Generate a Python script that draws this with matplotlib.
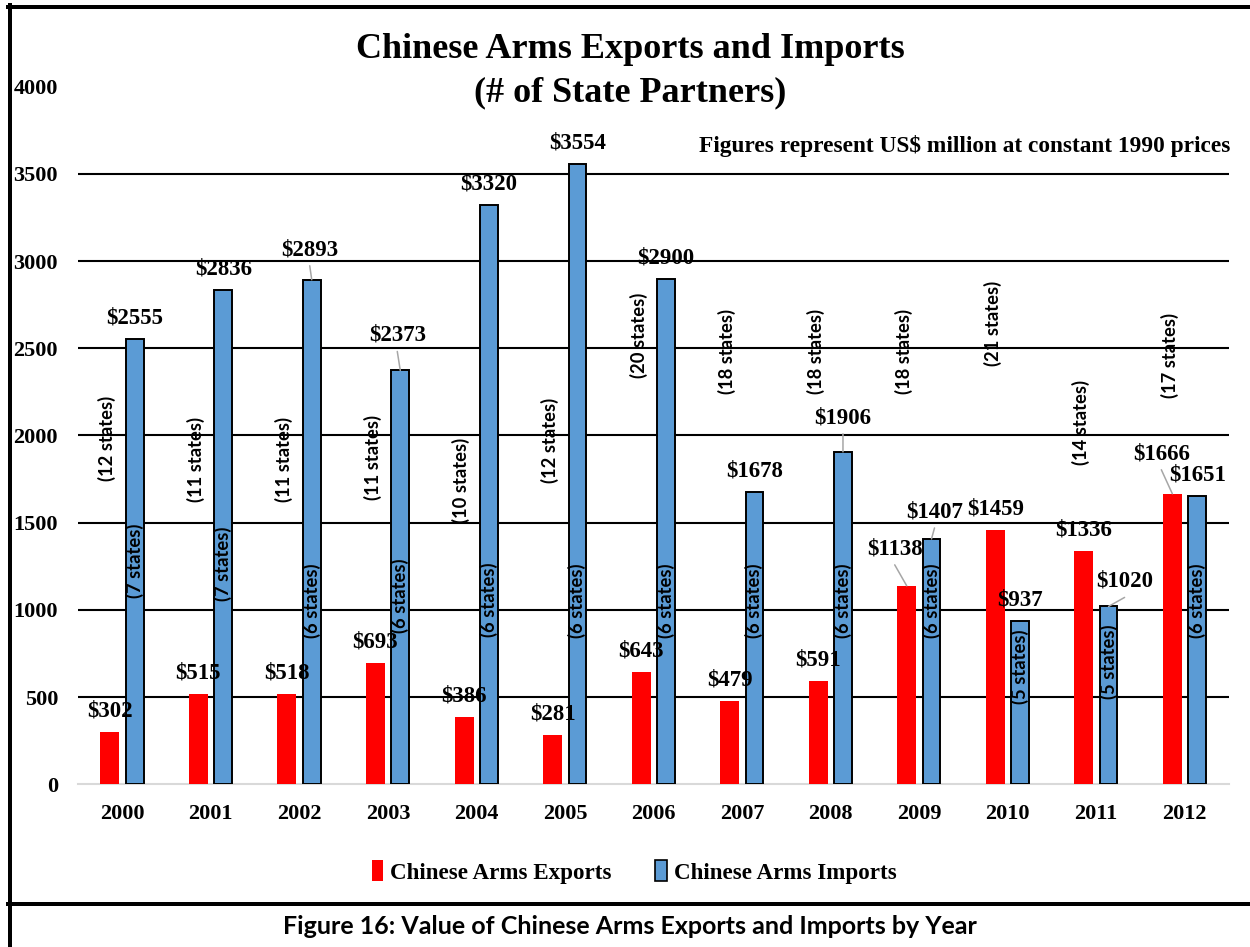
import matplotlib
matplotlib.use("Agg")
import matplotlib.pyplot as plt
from matplotlib.lines import Line2D
from matplotlib.patches import Patch
import numpy as np

# ---- data (US$ million, constant 1990 prices) ----
years = ["2000", "2001", "2002", "2003", "2004", "2005", "2006",
         "2007", "2008", "2009", "2010", "2011", "2012"]
exports = [302, 515, 518, 693, 386, 281, 643, 479, 591, 1138, 1459, 1336, 1666]
imports = [2555, 2836, 2893, 2373, 3320, 3554, 2900, 1678, 1906, 1407, 937, 1020, 1651]
export_partners = [12, 11, 11, 11, 10, 12, 20, 18, 18, 18, 21, 14, 17]
import_partners = [7, 7, 6, 6, 6, 6, 6, 6, 6, 6, 5, 5, 6]

# ---- layout: heights (data units) where the partner-count notes sit ----
export_note_y = [1986, 1860, 1860, 1871, 1745, 1974, 2576, 2479, 2479, 2479, 2645, 2072, 2459]
import_note_y = [1281, 1264, 1052, 1081, 1058, 1052, 1052, 1052, 1052, 1052, 674, 702, 1052]

# nudges (dx, extra rise) in pixels for value labels moved off their bars
export_label_shift = {9: (-12, 16), 12: (-11, 19)}
import_label_shift = {2: (-2, 9), 3: (-3, 14), 8: (0, 13), 9: (3, 6), 11: (16, 4)}

RED = "#ff0000"
BLUE = "#5b9bd5"
LEADER = "#a6a6a6"
SERIF = "Liberation Serif"
SANS = "Lato"

W, H, DPI = 1250, 947, 100


def px(v):
    """pixels -> points"""
    return v * 72.0 / DPI


fig = plt.figure(figsize=(W / DPI, H / DPI), dpi=DPI)
fig.patch.set_facecolor("white")

ax_left, ax_right, ax_bottom, ax_top = 78, 1229, 784.3, 86.7
ax = fig.add_axes([ax_left / W, 1 - ax_bottom / H,
                   (ax_right - ax_left) / W, (ax_bottom - ax_top) / H])

x = np.arange(len(years))
off = 0.14
ax.bar(x - off, exports, 0.215, color=RED, zorder=3)
ax.bar(x + off, imports, 0.2, color=BLUE, edgecolor="black", linewidth=1.4, zorder=3)

# horizontal gridlines and baseline
for v in range(500, 4000, 500):
    ax.axhline(v, color="black", lw=1.5, zorder=1)
ax.axhline(0, color="#d9d9d9", lw=1.5, zorder=2, clip_on=False)

ax.set_xlim(-0.5, len(years) - 0.5)
ax.set_ylim(0, 4000)
for s in ax.spines.values():
    s.set_visible(False)

ax.set_yticks(range(0, 4001, 500))
ax.set_xticks(x, years)
ax.tick_params(axis="y", length=0, pad=px(20))
ax.tick_params(axis="x", length=0, pad=px(20))
for lab in ax.get_xticklabels() + ax.get_yticklabels():
    lab.set_fontfamily(SERIF)
    lab.set_fontweight("bold")
    lab.set_fontsize(16)

label_kw = dict(textcoords="offset points", ha="center", va="center",
                fontsize=16.5, fontweight="bold", family=SERIF, zorder=6)


def value_labels(xs, vals, shifts):
    for i, (xi, v) in enumerate(zip(xs, vals)):
        dx, rise = shifts.get(i, (0, 0))
        ax.annotate(f"${v}", xy=(xi, v), xytext=(px(dx), px(21 + rise)), **label_kw)
        if i in shifts:
            ax.annotate("", xy=(xi, v), xytext=(px(dx), px(21 + rise - 16)),
                        textcoords="offset points",
                        arrowprops=dict(arrowstyle="-", color=LEADER, lw=1.1,
                                        shrinkA=0, shrinkB=0), zorder=5)


value_labels(x - off, exports, export_label_shift)
value_labels(x + off, imports, import_label_shift)

note_kw = dict(rotation=90, ha="center", va="center", fontsize=13.2,
               fontweight="bold", family=SANS, zorder=4)
for i, n in enumerate(export_partners):
    ax.text(i - off - 0.03, export_note_y[i], f"({n} states)", **note_kw)
for i, n in enumerate(import_partners):
    ax.text(i + off, import_note_y[i], f"({n} states)", **note_kw)

# titles
fig.text(630 / W, 1 - 49 / H, "Chinese Arms Exports and Imports", ha="center",
         va="center", fontsize=26, fontweight="bold", family=SERIF)
fig.text(630 / W, 1 - 93 / H, "(# of State Partners)", ha="center",
         va="center", fontsize=26, fontweight="bold", family=SERIF)
fig.text(1230 / W, 1 - 146 / H, "Figures represent US$ million at constant 1990 prices",
         ha="right", va="center", fontsize=16.8, fontweight="bold", family=SERIF)

# legend
handles = [Patch(facecolor=RED, edgecolor="none"),
           Patch(facecolor=BLUE, edgecolor="black", linewidth=1.2)]
fig.legend(handles, ["Chinese Arms Exports", "Chinese Arms Imports"],
           loc="center", bbox_to_anchor=(634 / W, 1 - 872 / H), ncol=2,
           frameon=False, prop=dict(family=SERIF, weight="bold", size=16.6),
           handlelength=0.5, handleheight=1.0, handletextpad=0.3,
           columnspacing=1.9)

# frame lines and caption
bw = px(4)
fig.add_artist(Line2D([9.5 / W, 9.5 / W], [0, 1 - 5 / H], transform=fig.transFigure,
                      color="black", lw=bw))
fig.add_artist(Line2D([7.5 / W, 1], [1 - 7 / H, 1 - 7 / H], transform=fig.transFigure,
                      color="black", lw=bw))
fig.add_artist(Line2D([7.5 / W, 1], [1 - 903.5 / H, 1 - 903.5 / H],
                      transform=fig.transFigure, color="black", lw=bw))
fig.text(630 / W, 1 - 926 / H, "Figure 16: Value of Chinese Arms Exports and Imports by Year",
         ha="center", va="center", fontsize=18, fontweight="bold", family=SANS)

fig.savefig("out.png", dpi=DPI)
